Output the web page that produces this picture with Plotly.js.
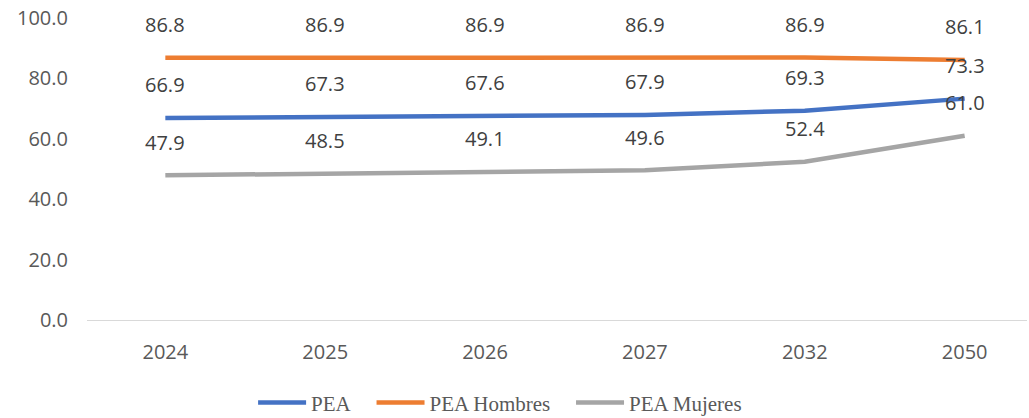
<!DOCTYPE html>
<html>
<head>
<meta charset="utf-8">
<script src="https://cdn.plot.ly/plotly-3.0.1.min.js"></script>
<style>html,body{margin:0;padding:0;background:#fff;}#chart{width:1029px;height:418px;}</style>
</head>
<body>
<div id="chart"></div>
<script>
const years = ["2024", "2025", "2026", "2027", "2032", "2050"];
const pea = [66.9, 67.3, 67.6, 67.9, 69.3, 73.3];
const peaHombres = [86.8, 86.9, 86.9, 86.9, 86.9, 86.1];
const peaMujeres = [47.9, 48.5, 49.1, 49.6, 52.4, 61.0];
const seriesNames = ["PEA", "PEA Hombres", "PEA Mujeres"];
const yTicks = [0, 20, 40, 60, 80, 100];

const colors = ["#4472C4", "#ED7D31", "#A5A5A5"];
const allSeries = [pea, peaHombres, peaMujeres];
const sans = "Open Sans, Liberation Sans, Arial, sans-serif";

const traces = allSeries.map((vals, i) => ({
  x: years, y: vals, type: "scatter", mode: "lines",
  name: seriesNames[i] + (i < 2 ? "\u00a0\u00a0\u00a0" : ""),
  line: {color: colors[i], width: 4.5}, hoverinfo: "skip"
}));

const annotations = [];
allSeries.forEach((vals) => {
  vals.forEach((v, j) => {
    annotations.push({
      x: j, y: v, xref: "x", yref: "y", text: v.toFixed(1),
      showarrow: false, yshift: 33, font: {family: sans, size: 20, color: "#404040"}
    });
  });
});

const layout = {
  width: 1029, height: 418,
  margin: {l: 87, r: 2, t: 18, b: 98},
  paper_bgcolor: "#fff", plot_bgcolor: "#fff",
  showlegend: true,
  legend: {orientation: "h", x: 0.486, xref: "container", xanchor: "center",
           y: 0.036, yref: "container", yanchor: "middle",
           font: {family: "Liberation Serif, Times New Roman, serif", size: 21, color: "#595959"},
           itemwidth: 48, traceorder: "normal"},
  xaxis: {type: "category", range: [-0.49, 5.39], showgrid: false, zeroline: false,
          showline: true, linecolor: "#D9D9D9", linewidth: 1, ticks: "",
          tickfont: {family: sans, size: 20, color: "#595959"}, ticklabelstandoff: 14, fixedrange: true},
  yaxis: {range: [0, 100], tickvals: yTicks, ticktext: yTicks.map(v => v.toFixed(1)),
          showgrid: false, zeroline: false, showline: false, ticks: "",
          tickfont: {family: sans, size: 20, color: "#595959"}, ticklabelstandoff: 18, fixedrange: true},
  annotations: annotations
};

Plotly.newPlot("chart", traces, layout, {displayModeBar: false, staticPlot: true});
</script>
</body>
</html>
